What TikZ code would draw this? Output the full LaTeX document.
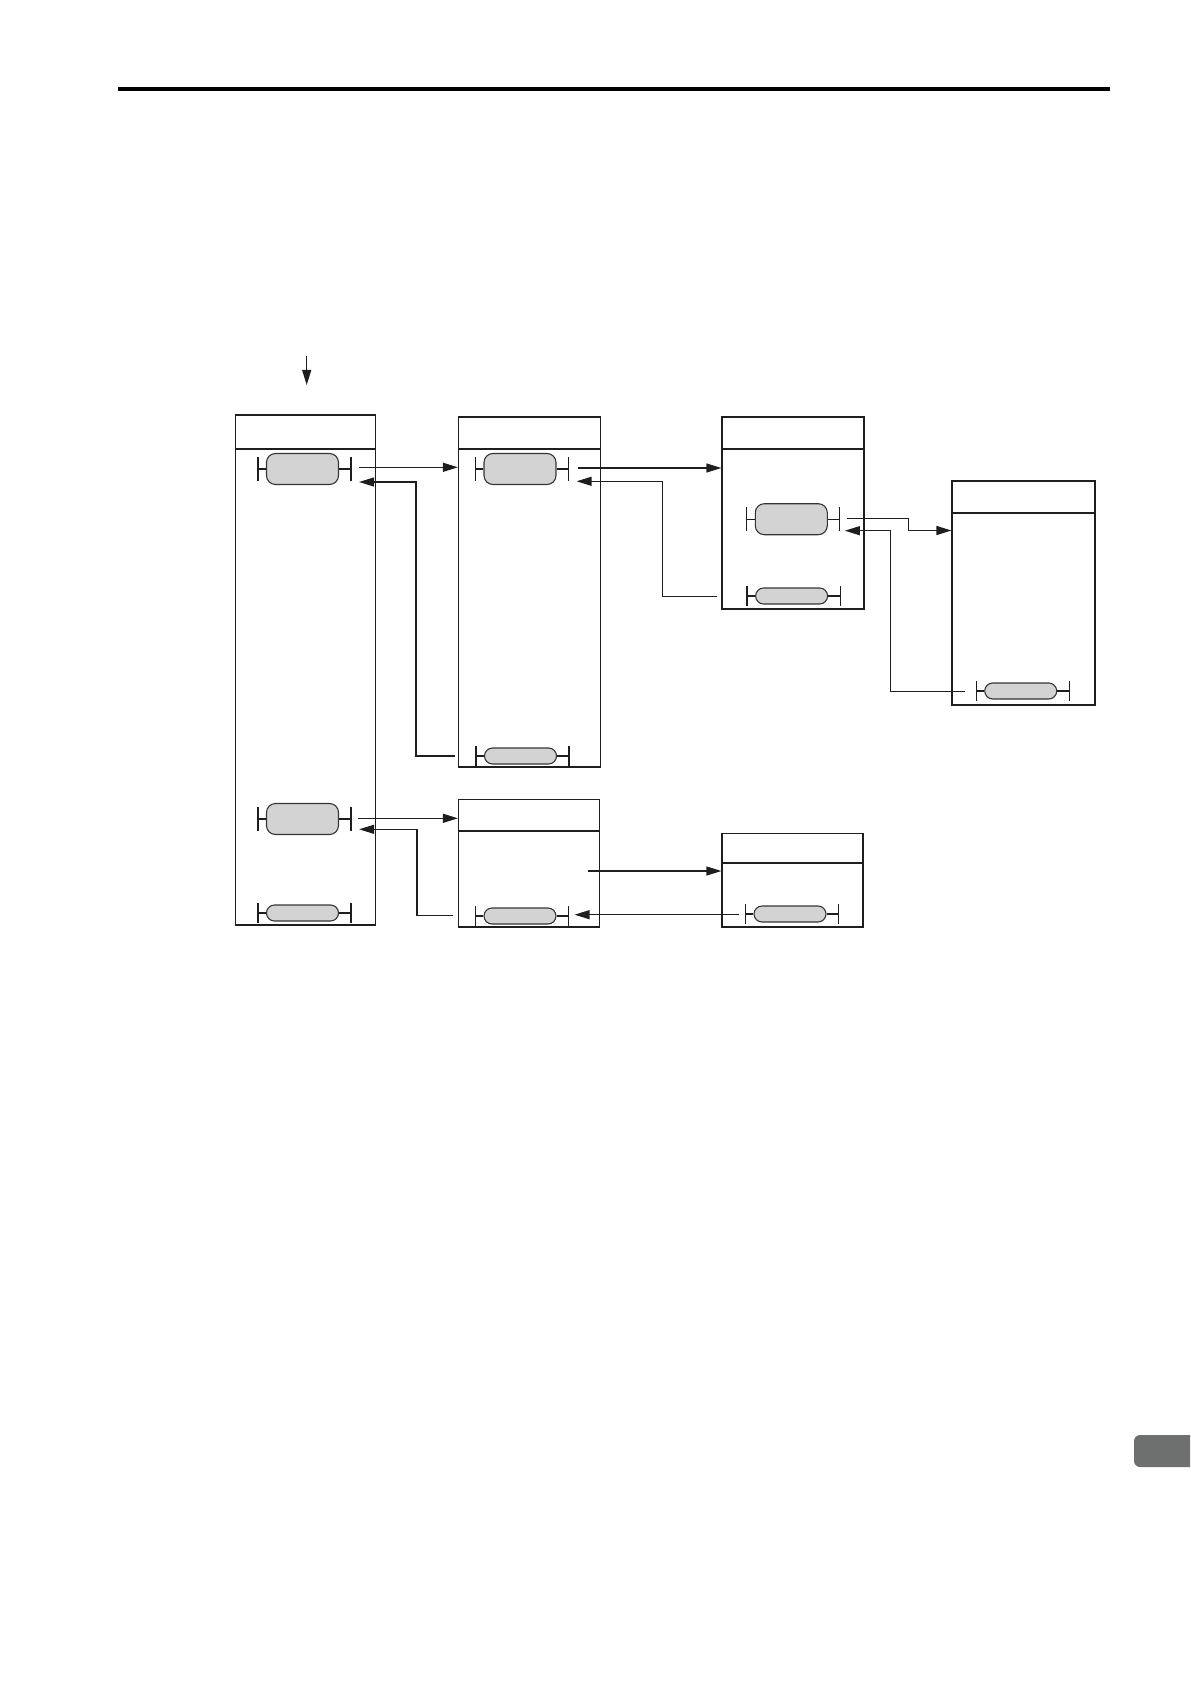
\documentclass[tikz,border=0pt]{standalone}
\usetikzlibrary{arrows.meta,calc}
\definecolor{pillfill}{HTML}{D3D3D3}
\definecolor{tabgray}{HTML}{6E7070}
\definecolor{ink}{HTML}{1E1E1E}
\tikzset{
  boxn/.style={draw=ink, line width=0.6pt, inner sep=0pt, rectangle},
  bigpill/.style={draw=ink!90, line width=0.55pt, fill=pillfill, rounded corners=4.5pt,
    minimum width=36pt, minimum height=15.5pt, inner sep=0pt},
  smallpill/.style={draw=ink!90, line width=0.55pt, fill=pillfill, rounded corners=4pt,
    minimum width=36pt, minimum height=8pt, inner sep=0pt},
  conn/.style={draw=ink, line width=0.6pt},
  arr/.style={conn, -{Triangle[length=7.5pt,width=4.5pt]}},
  hdr/.style={draw=ink, line width=0.6pt},
}
\newcommand\pillbar[2]{%
  \draw[conn] (#1.west) -- ++(-8,0) ++(0,-#2) -- ++(0,{2*#2});
  \draw[conn] (#1.east) -- ++(12,0) ++(0,-#2) -- ++(0,{2*#2});
}
\begin{document}
\begin{tikzpicture}[x=0.5pt,y=-0.5pt]
\useasboundingbox (0,0) rectangle (1190,1684);

% top rule
\draw[line width=1.75pt, black] (118,89) -- (1110,89);

% side tab
\begin{scope}
\clip (0,0) rectangle (1190,1684);
\fill[tabgray, rounded corners=3pt] (1134,1435) rectangle (1200,1467);
\end{scope}

% boxes
\node[boxn, minimum width=70pt, minimum height=255pt] (b1) at (305.5,670) {};
\node[boxn, minimum width=71pt, minimum height=175pt] (b2) at (529.5,592) {};
\node[boxn, minimum width=71pt, minimum height=96pt] (b3) at (793,513) {};
\node[boxn, minimum width=71.5pt, minimum height=112pt] (b4) at (1023.5,593) {};
\node[boxn, minimum width=70.5pt, minimum height=63.75pt] (b5) at (529,863.25) {};
\node[boxn, minimum width=70.5pt, minimum height=46.75pt] (b6) at (792.5,880.25) {};

% header lines
\draw[hdr] (b1.west |- 0,449) -- (b1.east |- 0,449);
\draw[hdr] (b2.west |- 0,449) -- (b2.east |- 0,449);
\draw[hdr] (b3.west |- 0,449) -- (b3.east |- 0,449);
\draw[hdr] (b4.west |- 0,513) -- (b4.east |- 0,513);
\draw[hdr] (b5.west |- 0,831) -- (b5.east |- 0,831);
\draw[hdr] (b6.west |- 0,863) -- (b6.east |- 0,863);

% pills
\node[bigpill] (p1a) at (302.5,469) {};
\node[bigpill] (p1b) at (302.5,819) {};
\node[smallpill] (p1c) at (302.5,913) {};
\node[bigpill] (p2a) at (520,469) {};
\node[smallpill] (p2b) at (520.5,756) {};
\node[bigpill] (p3a) at (791.3,519.2) {};
\node[smallpill] (p3b) at (791.6,596) {};
\node[smallpill] (p4) at (1020.7,691) {};
\node[smallpill] (p5) at (520,916) {};
\node[smallpill] (p6) at (790,914) {};

\pillbar{p1a}{12}
\pillbar{p1b}{12}
\pillbar{p1c}{10}
\pillbar{p2a}{12}
\pillbar{p2b}{10}
\pillbar{p3a}{12}
\pillbar{p3b}{10}
\pillbar{p4}{10}
\pillbar{p5}{10}
\pillbar{p6}{10}

% entry arrow
\coordinate (topS) at (306.7,356);
\coordinate (topE) at (306.7,385);
\draw[arr] (topS) -- (topE);

% box1 top pill <-> box2
\coordinate (o1) at ($(p1a.east)+(20,-1.7)$);
\draw[arr] (o1) -- (o1 -| b2.west);
\draw[arr] ($(p2b.center -| b2.west)+(-2.5,0)$) -| ($(p1a.east)+(77,13)$) -- ($(p1a.east)+(20,13)$);

% box2 <-> box3
\coordinate (o2) at ($(p2a.east)+(21,-1)$);
\draw[arr] (o2) -- (o2 -| b3.west);
\draw[arr] ($(p3b.center -| b3.west)+(-4,0.3)$) -| ($(p2a.east)+(105.6,12.3)$) -- ($(p2a.east)+(20,12.3)$);

% box3 <-> box4
\coordinate (o3) at ($(p3a.east)+(19,-0.9)$);
\draw[arr] (o3) -| ($(o3)+(62,6)$) |- (b4.west |- 0,530.5);
\draw[arr] ($(p4.west)+(-19.5,0.7)$) -| ($(p3a.east)+(63,11.5)$) -- ($(p3a.east)+(17,11.5)$);

% box1 lower pill <-> box5
\coordinate (o4) at ($(p1b.east)+(19,-0.7)$);
\draw[arr] (o4) -- (o4 -| b5.west);
\draw[arr] ($(p5.center -| b5.west)+(-4.5,-0.7)$) -| ($(p1b.east)+(78,10.3)$) -- ($(p1b.east)+(20,10.3)$);

% box5 <-> box6
\coordinate (s5) at (588,871);
\draw[arr] (s5) -- (s5 -| b6.west);
\coordinate (s6) at ($(p6.west)+(-14,0.7)$);
\draw[arr] (s6) -- ($(s6 -| p5.east)+(18,0)$);
\end{tikzpicture}
\end{document}
